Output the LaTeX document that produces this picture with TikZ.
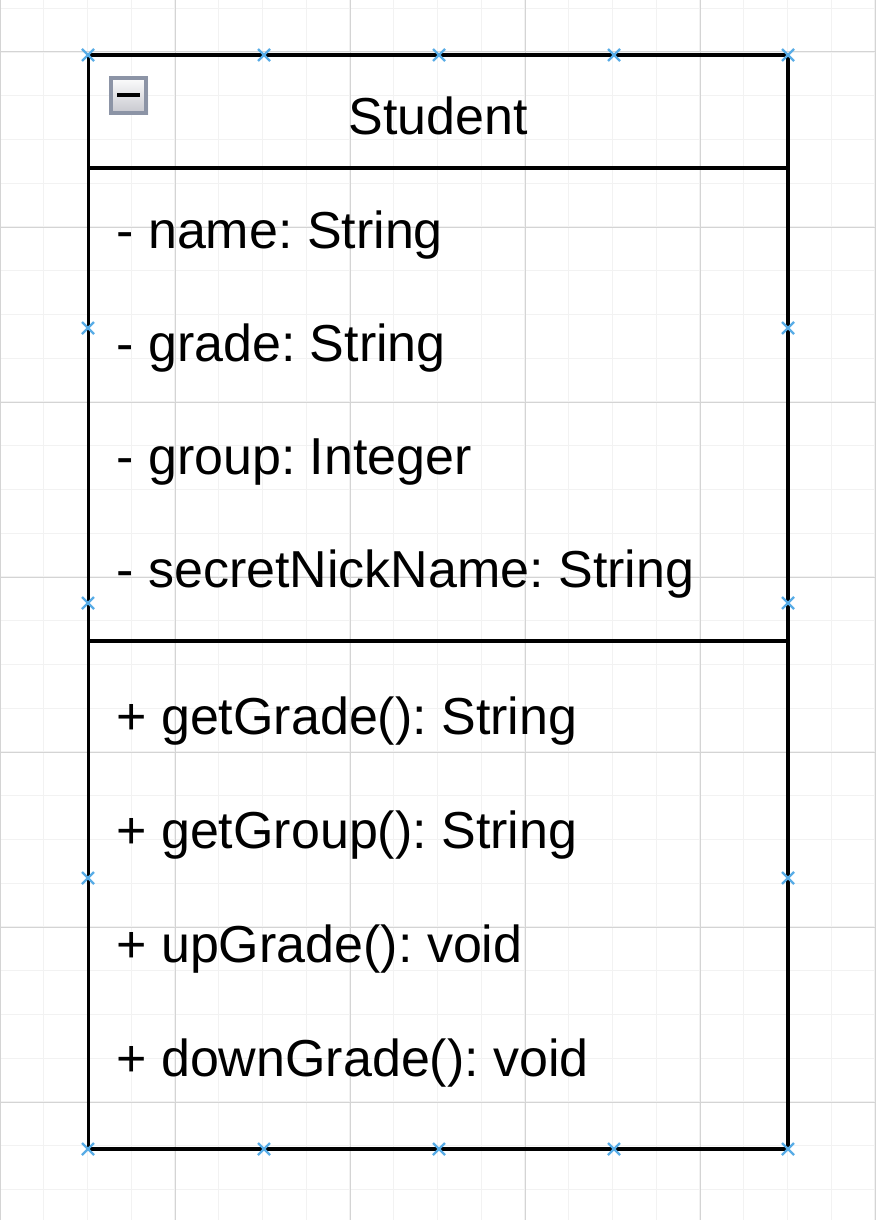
\documentclass[tikz,border=0pt]{standalone}
\usepackage{fontspec}
\setmainfont{Liberation Sans}
\frenchspacing
\definecolor{gridminor}{RGB}{242,242,242}
\definecolor{gridmajor}{RGB}{212,212,212}
\definecolor{handleblue}{RGB}{88,172,230}
\definecolor{btnborder}{RGB}{140,148,166}
\definecolor{btnlow}{RGB}{196,197,204}
\tikzset{
  member/.style={anchor=base west, inner sep=0pt, font=\fontsize{26}{30}\selectfont},
  classline/.style={line width=1.8pt},
  handle/.style={handleblue, line width=1.2pt},
}

\begin{document}
\begin{tikzpicture}[x=0.5pt, y=-0.5pt]
  \useasboundingbox (0,0) rectangle (875,1220);
  \fill[white] (0,0) rectangle (875,1220);

  % background grid
  \foreach \i in {0,...,20}
    \draw [gridminor, line width=0.6pt] (\i*43.75,0) -- (\i*43.75,1220);
  \foreach \j in {0,...,27}
    \draw [gridminor, line width=0.6pt] (0,8.25+\j*43.75) -- (875,8.25+\j*43.75);
  \foreach \i in {0,...,5}
    \draw [gridmajor, line width=0.5pt] (\i*175,0) -- (\i*175,1220);
  \foreach \j in {0,...,6}
    \draw [gridmajor, line width=0.5pt] (0,52+\j*175) -- (875,52+\j*175);

  % class box
  \draw [classline] (88.5,55) rectangle (788,1149);
  \draw [classline] (88.5,168) -- (788,168);
  \draw [classline] (88.5,641) -- (788,641);

  % collapse button
  \shade [top color=white, bottom color=btnlow] (109,76) rectangle (148,115);
  \draw [btnborder, line width=2.2pt] (111,78) rectangle (146,113);
  \fill [black] (117,93) rectangle (140,97);

  \node [font=\fontsize{26}{30}\selectfont, anchor=base, inner sep=0pt] (title) at (438,134) {Student};

  \begin{scope}[every node/.style={member}]
    \node (attrname) at (116,248) {- name: String};
    \node (attrgrade) at (116,361) {- grade: String};
    \node (attrgroup) at (116,474) {- group: Integer};
    \node (attrnick) at (116,587) {- secretNickName: String};
    \node (opgetgrade) at (116,734) {+ getGrade(): String};
    \node (opgetgroup) at (116,848) {+ getGroup(): String};
    \node (opupgrade) at (116,962) {+ upGrade(): void};
    \node (opdowngrade) at (116,1076) {+ downGrade(): void};
  \end{scope}

  % selection handles
  \foreach \x/\y in {88/55, 264/55, 439/55, 614/55, 788/55,
                     88/328, 788/328, 88/603, 788/603, 88/878, 788/878,
                     88/1149, 264/1149, 439/1149, 614/1149, 788/1149}
  {
    \draw [handle] (\x-6,\y-6) -- (\x+6,\y+6);
    \draw [handle] (\x-6,\y+6) -- (\x+6,\y-6);
  }

\end{tikzpicture}
\end{document}
